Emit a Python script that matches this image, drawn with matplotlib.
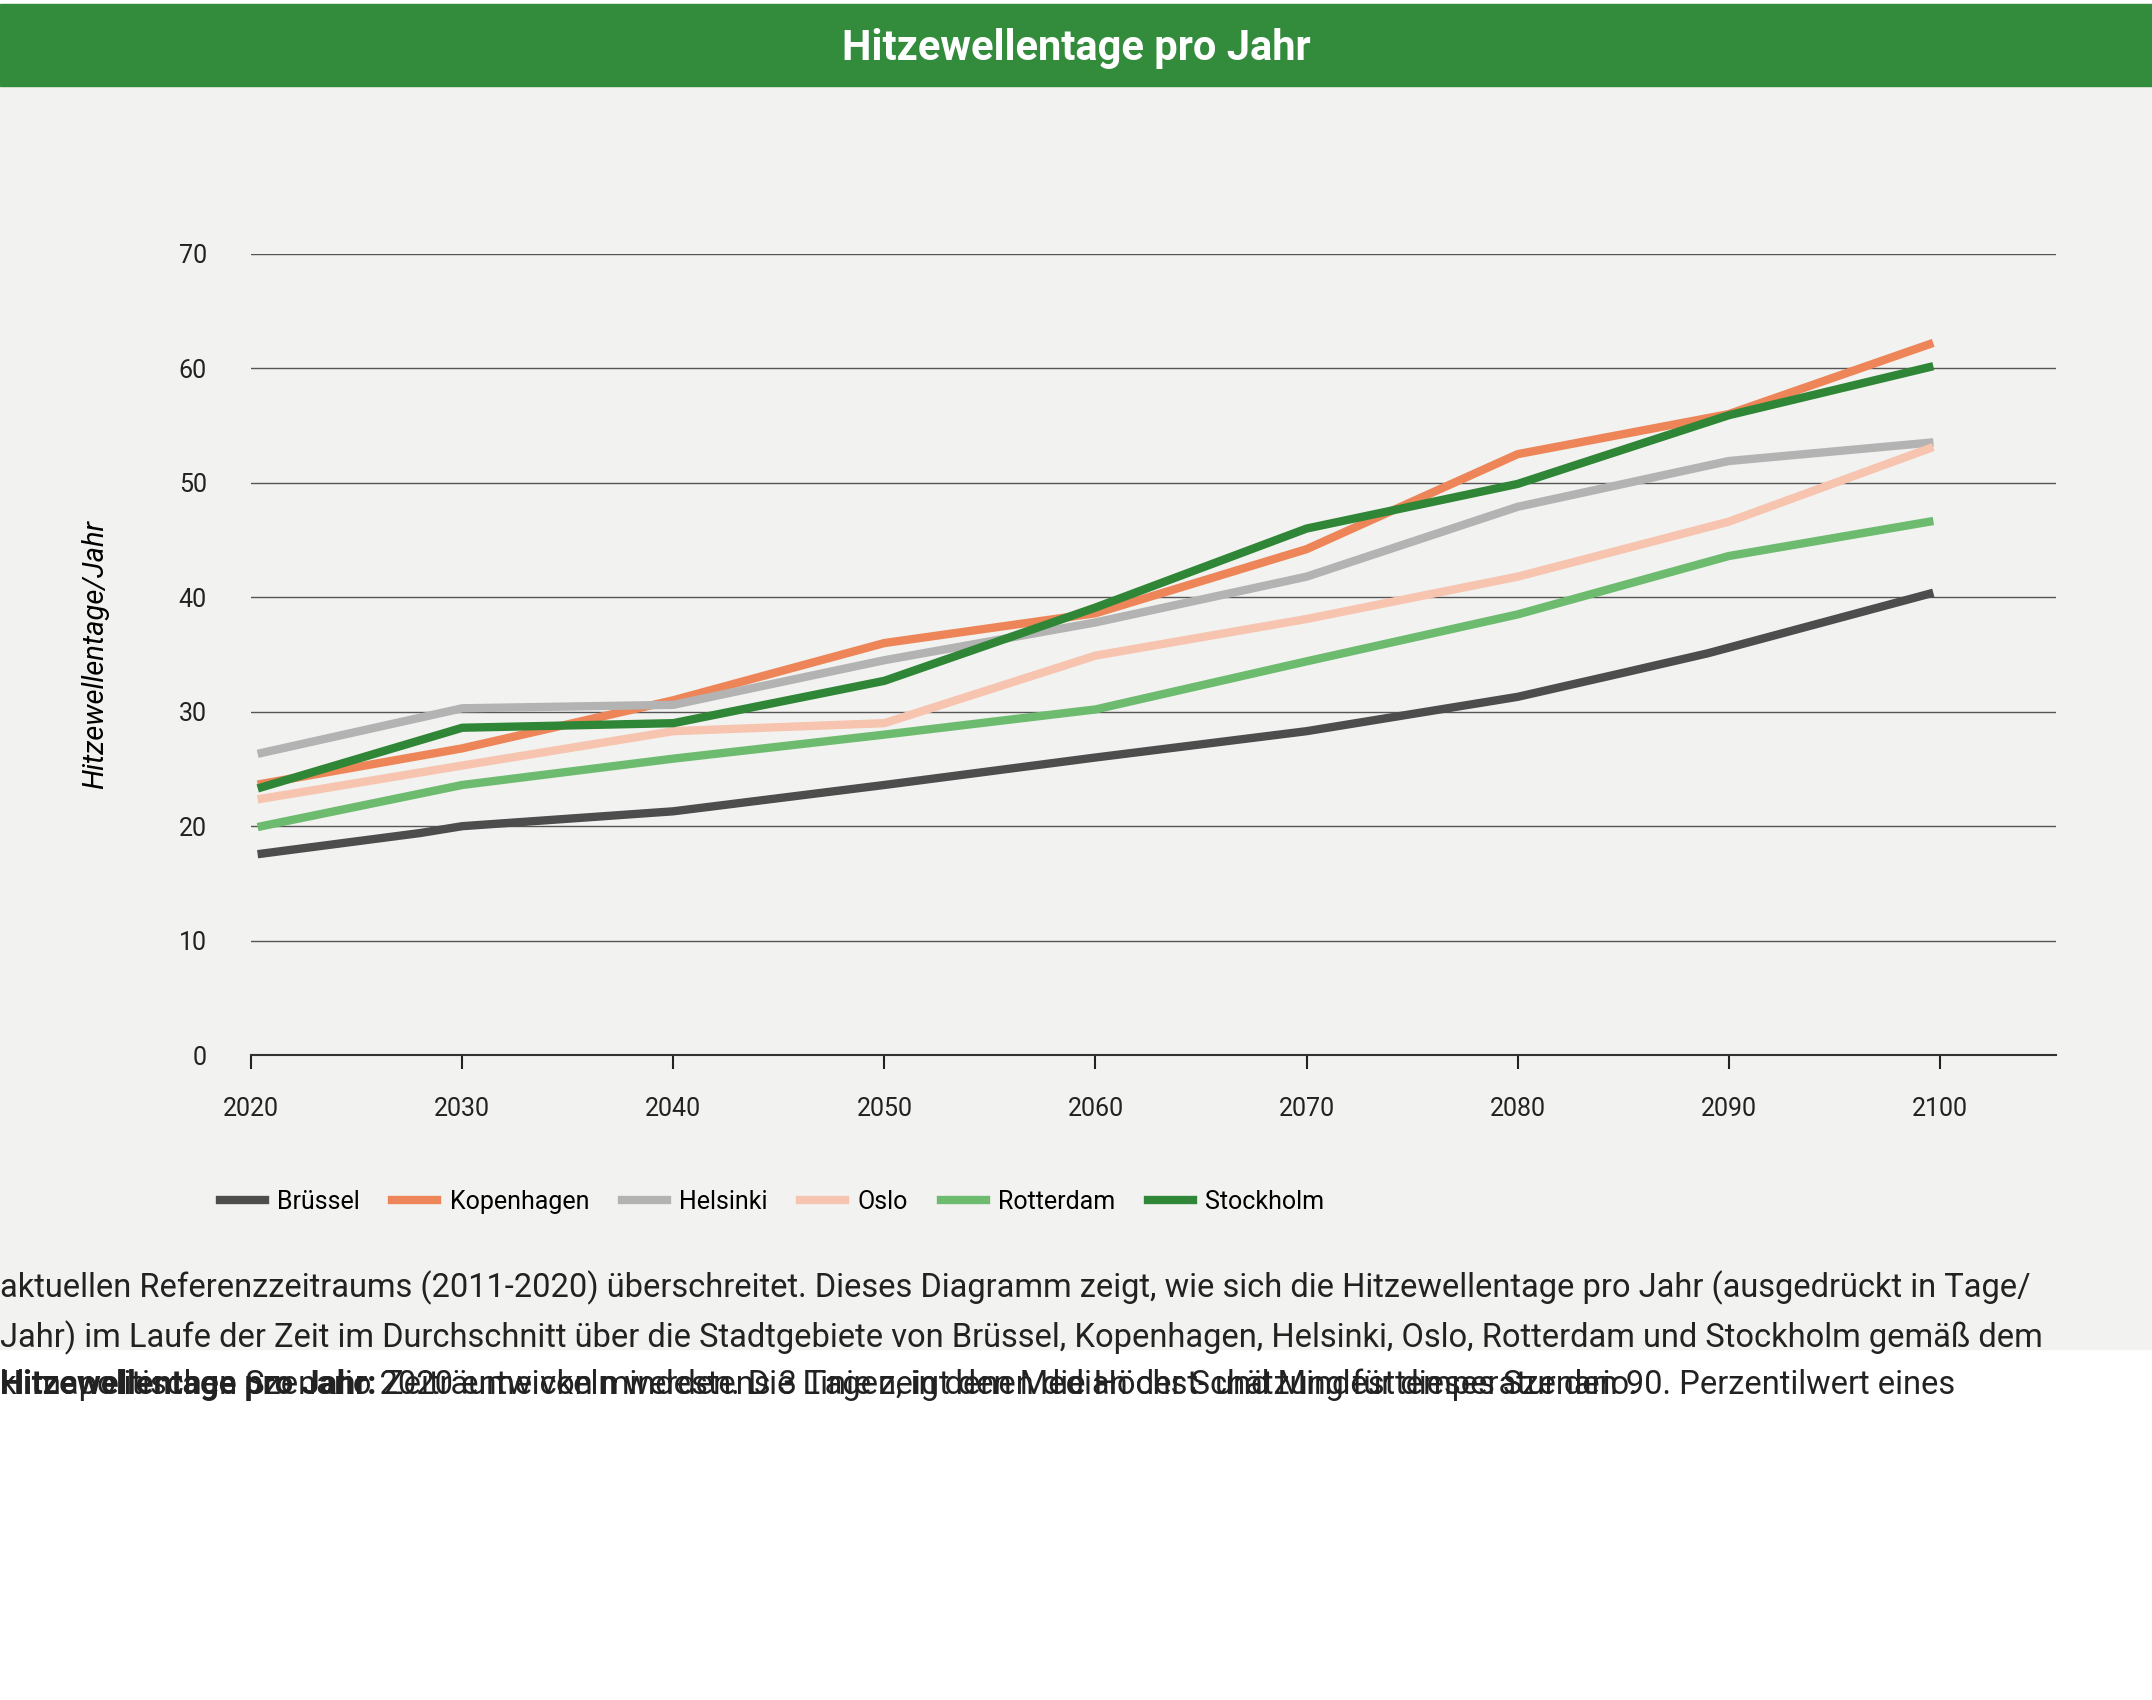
import matplotlib.pyplot as plt
from matplotlib.patches import Rectangle

plt.rcParams['font.family'] = ['Roboto', 'DejaVu Sans']

years = [2020.5, 2030, 2040, 2050, 2060, 2070, 2080, 2090, 2099.5]
bruessel_x = [2020.5, 2028, 2030, 2040, 2050, 2060, 2070, 2080, 2085, 2089, 2099.5]
bruessel = [17.6, 19.4, 20.0, 21.3, 23.6, 26.0, 28.3, 31.3, 33.4, 35.1, 40.3]
kopenhagen = [23.7, 26.8, 31.0, 36.0, 38.6, 44.2, 52.5, 56.0, 62.1]
helsinki = [26.4, 30.3, 30.6, 34.5, 37.8, 41.8, 47.9, 51.9, 53.5]
oslo = [22.4, 25.3, 28.3, 29.0, 34.9, 38.1, 41.8, 46.6, 53.0]
rotterdam = [20.0, 23.6, 25.9, 28.0, 30.2, 34.4, 38.5, 43.6, 46.6]
stockholm = [23.4, 28.6, 29.0, 32.7, 39.1, 46.0, 49.9, 55.9, 60.1]

W, H = 1568, 1239
fig = plt.figure(figsize=(21.52, 17), dpi=100)
fig.patches.append(Rectangle((0, 1 - 983 / H), 1, (983 - 63) / H, transform=fig.transFigure,
                             color='#f2f2f0', zorder=-2))
fig.patches.append(Rectangle((0, 1 - 63 / H), 1, 60 / H, transform=fig.transFigure,
                             color='#338b3c', zorder=-1))
fig.text(0.5, 1 - 35 / H, 'Hitzewellentage pro Jahr', ha='center', va='center',
         color='white', fontsize=30, fontweight='bold')

ax = fig.add_axes([183 / W, 1 - 769 / H, (1498 - 183) / W, (769 - 185) / H])
ax.set_facecolor('none')
lw = 6
ax.plot(bruessel_x, bruessel, color='#4d4d4d', lw=lw, label='Brüssel')
ax.plot(years, kopenhagen, color='#ee8558', lw=lw, label='Kopenhagen')
ax.plot(years, helsinki, color='#b3b3b3', lw=lw, label='Helsinki')
ax.plot(years, oslo, color='#f7c4b0', lw=lw, label='Oslo')
ax.plot(years, rotterdam, color='#6dbb6f', lw=lw, label='Rotterdam')
ax.plot(years, stockholm, color='#2f8636', lw=lw, label='Stockholm')

ax.set_xlim(2020, 2105.5)
ax.set_ylim(0, 70)
ax.set_yticks(range(0, 71, 10))
ax.set_xticks(range(2020, 2101, 10))
ax.grid(axis='y', color='#555555', lw=1)
ax.set_axisbelow(True)
for s in ['top', 'right', 'left']:
    ax.spines[s].set_visible(False)
ax.spines['bottom'].set_color('#333333')
ax.spines['bottom'].set_linewidth(1.5)
ax.tick_params(axis='y', length=0, pad=32, labelsize=18, colors='#222222')
ax.tick_params(axis='x', length=10, width=1.5, pad=20, labelsize=18, colors='#222222')
ax.set_ylabel('Hitzewellentage/Jahr', fontsize=21, style='italic', labelpad=50)

ax.legend(loc='upper left', bbox_to_anchor=(-0.03, -0.14), ncol=6, frameon=False,
          fontsize=18, handlelength=1.8, columnspacing=1.3, handletextpad=0.5)

first = ' Zeiträume von mindestens 3 Tagen, in denen die Höchst- und Mindesttemperatur den 90. Perzentilwert eines'
rest = ("\naktuellen Referenzzeitraums (2011-2020) überschreitet. Dieses Diagramm zeigt, wie sich die Hitzewellentage pro Jahr (ausgedrückt in Tage/\n"
        "Jahr) im Laufe der Zeit im Durchschnitt über die Stadtgebiete von Brüssel, Kopenhagen, Helsinki, Oslo, Rotterdam und Stockholm gemäß dem\n"
        "klimapolitischen Szenario 2020 entwickeln werden. Die Linie zeigt den Median der Schätzung für dieses Szenario.")
fs = 23.5
y0 = 1 - 1016 / H
bold = fig.text(0.0, y0, 'Hitzewellentage pro Jahr:', fontsize=fs, fontweight='bold',
                va='baseline', color='#222222')
r = fig.canvas.get_renderer()
bx = bold.get_window_extent(r).x1 / fig.bbox.width
fig.text(bx, y0, first, fontsize=fs, va='baseline', color='#222222')
fig.text(0.0, y0, rest, fontsize=fs, va='baseline', color='#222222', linespacing=1.55)

fig.savefig('out.png', dpi=100)
